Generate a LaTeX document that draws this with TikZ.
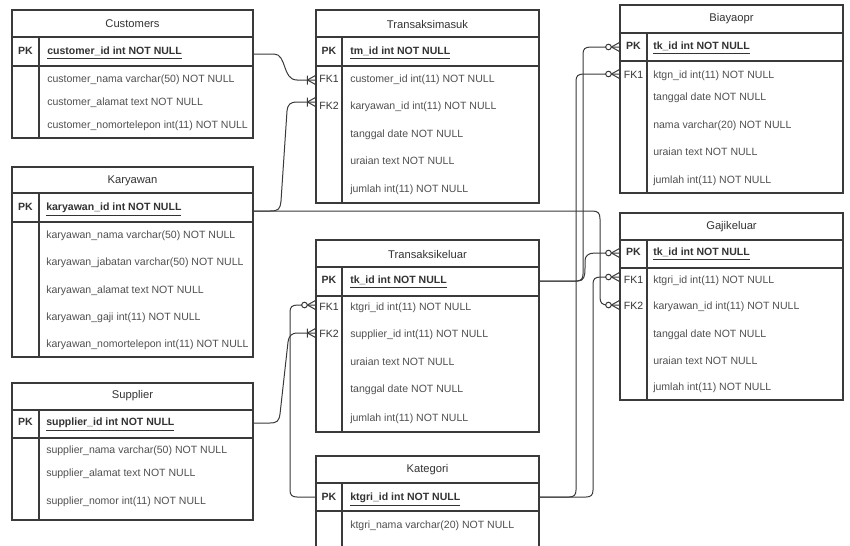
\documentclass[tikz,border=0pt]{standalone}
\usepackage{fontspec}
\setmainfont{Liberation Sans}
\usetikzlibrary{fit}
\definecolor{linec}{HTML}{3A3A3A}
\definecolor{rowc}{HTML}{505050}
\definecolor{titc}{HTML}{333333}
\begin{document}
\begin{tikzpicture}[x=0.75pt,y=-0.75pt,
  tblbox/.style={draw=linec, line width=0.8pt, inner sep=0pt},
  tblline/.style={draw=linec, line width=0.8pt},
  conn/.style={draw=linec, line width=0.75pt},
  titletxt/.style={inner sep=0pt, font=\fontsize{8.4}{10}\selectfont, text=titc},
  rowtxt/.style={anchor=west, inner sep=0pt, text height=6pt, text depth=1.8pt, font=\fontsize{7.9}{9}\selectfont, text=rowc},
  pktxt/.style={rowtxt, font=\fontsize{7.9}{9}\selectfont\bfseries, text=titc},
  keytxt/.style={inner sep=0pt, text height=6pt, text depth=1.8pt, font=\fontsize{7.9}{9}\selectfont, text=titc},
  pkkey/.style={keytxt, font=\fontsize{7.9}{9}\selectfont\bfseries},
  zmany/.pic={\draw[conn] (-8,0) -- (0,-4.5) (-8,0) -- (0,4.5); \draw[conn, fill=white] (-11,0) circle (2.1pt);},
  mmany/.pic={\draw[conn] (-8,0) -- (0,-4.5) (-8,0) -- (0,4.5) (-8,-4.5) -- (-8,4.5);}
]
\useasboundingbox (0,0) rectangle (850,546);
\fill[white] (0,0) rectangle (850,546);
\clip (0,0) rectangle (850,546);

% ---------- Customers ----------
\node[tblbox, fit={(12,10)(253,138)}] (cu) {};
\draw[tblline] (12,37) -- (253,37) (12,66) -- (253,66) (39,37) -- (39,138);
\node[titletxt] (cu-t) at (132.5,24) {Customers};
\node[pkkey] (cu-k) at (25.5,52) {PK};
\node[pktxt] (cu-pk) at (47,52) {\underline{customer\_id int NOT NULL}};
\node[rowtxt] (cu-r1) at (47,80) {customer\_nama varchar(50) NOT NULL};
\node[rowtxt] (cu-r2) at (47,103) {customer\_alamat text NOT NULL};
\node[rowtxt] (cu-r3) at (47,126) {customer\_nomortelepon int(11) NOT NULL};

% ---------- Karyawan ----------
\node[tblbox, fit={(12,167)(253,357)}] (ka) {};
\draw[tblline] (12,193) -- (253,193) (12,222) -- (253,222) (39,193) -- (39,357);
\node[titletxt] (ka-t) at (132.5,181) {Karyawan};
\node[pkkey] (ka-k) at (25.5,208) {PK};
\node[pktxt] (ka-pk) at (46,208) {\underline{karyawan\_id int NOT NULL}};
\node[rowtxt] (ka-r1) at (46,236) {karyawan\_nama varchar(50) NOT NULL};
\node[rowtxt] (ka-r2) at (46,263) {karyawan\_jabatan varchar(50) NOT NULL};
\node[rowtxt] (ka-r3) at (46,291) {karyawan\_alamat text NOT NULL};
\node[rowtxt] (ka-r4) at (46,318) {karyawan\_gaji int(11) NOT NULL};
\node[rowtxt] (ka-r5) at (46,345) {karyawan\_nomortelepon int(11) NOT NULL};

% ---------- Supplier ----------
\node[tblbox, fit={(12,383)(253,520)}] (su) {};
\draw[tblline] (12,410) -- (253,410) (12,438) -- (253,438) (39,410) -- (39,520);
\node[titletxt] (su-t) at (132.5,396) {Supplier};
\node[pkkey] (su-k) at (25.5,423) {PK};
\node[pktxt] (su-pk) at (46,423) {\underline{supplier\_id int NOT NULL}};
\node[rowtxt] (su-r1) at (46,451) {supplier\_nama varchar(50) NOT NULL};
\node[rowtxt] (su-r2) at (46,474) {supplier\_alamat text NOT NULL};
\node[rowtxt] (su-r3) at (46,502) {supplier\_nomor int(11) NOT NULL};

% ---------- Transaksimasuk ----------
\node[tblbox, fit={(316,10)(539,203)}] (tm) {};
\draw[tblline] (316,37) -- (539,37) (316,66) -- (539,66) (342,37) -- (342,203);
\node[titletxt] (tm-t) at (427.5,24) {Transaksimasuk};
\node[pkkey] (tm-k) at (329,52) {PK};
\node[keytxt] (tm-k1) at (329,80) {FK1};
\node[keytxt] (tm-k2) at (329,107) {FK2};
\node[pktxt] (tm-pk) at (350,52) {\underline{tm\_id int NOT NULL}};
\node[rowtxt] (tm-r1) at (350,80) {customer\_id int(11) NOT NULL};
\node[rowtxt] (tm-r2) at (350,107) {karyawan\_id int(11) NOT NULL};
\node[rowtxt] (tm-r3) at (350,135) {tanggal date NOT NULL};
\node[rowtxt] (tm-r4) at (350,162) {uraian text NOT NULL};
\node[rowtxt] (tm-r5) at (350,190) {jumlah int(11) NOT NULL};

% ---------- Transaksikeluar ----------
\node[tblbox, fit={(316,240)(539,432)}] (tk) {};
\draw[tblline] (316,267) -- (539,267) (316,296) -- (539,296) (342,267) -- (342,432);
\node[titletxt] (tk-t) at (427.5,254) {Transaksikeluar};
\node[pkkey] (tk-k) at (329,281) {PK};
\node[keytxt] (tk-k1) at (329,308) {FK1};
\node[keytxt] (tk-k2) at (329,335) {FK2};
\node[pktxt] (tk-pk) at (350,281) {\underline{tk\_id int NOT NULL}};
\node[rowtxt] (tk-r1) at (350,308) {ktgri\_id int(11) NOT NULL};
\node[rowtxt] (tk-r2) at (350,335) {supplier\_id int(11) NOT NULL};
\node[rowtxt] (tk-r3) at (350,363) {uraian text NOT NULL};
\node[rowtxt] (tk-r4) at (350,390) {tanggal date NOT NULL};
\node[rowtxt] (tk-r5) at (350,419) {jumlah int(11) NOT NULL};

% ---------- Kategori ----------
\node[tblbox, fit={(316,456)(539,560)}] (kt) {};
\draw[tblline] (316,483) -- (539,483) (316,511) -- (539,511) (342,483) -- (342,560);
\node[titletxt] (kt-t) at (427.5,470) {Kategori};
\node[pkkey] (kt-k) at (329,498) {PK};
\node[pktxt] (kt-pk) at (350,498) {\underline{ktgri\_id int NOT NULL}};
\node[rowtxt] (kt-r1) at (350,526) {ktgri\_nama varchar(20) NOT NULL};

% ---------- Biayaopr ----------
\node[tblbox, fit={(620,5)(843,193)}] (bo) {};
\draw[tblline] (620,33) -- (843,33) (620,61) -- (843,61) (647,33) -- (647,193);
\node[titletxt] (bo-t) at (731.5,19) {Biayaopr};
\node[pkkey] (bo-k) at (633.5,47) {PK};
\node[keytxt] (bo-k1) at (633.5,76) {FK1};
\node[pktxt] (bo-pk) at (653,47) {\underline{tk\_id int NOT NULL}};
\node[rowtxt] (bo-r1) at (653,76) {ktgn\_id int(11) NOT NULL};
\node[rowtxt] (bo-r2) at (653,98) {tanggal date NOT NULL};
\node[rowtxt] (bo-r3) at (653,126) {nama varchar(20) NOT NULL};
\node[rowtxt] (bo-r4) at (653,153) {uraian text NOT NULL};
\node[rowtxt] (bo-r5) at (653,181) {jumlah int(11) NOT NULL};

% ---------- Gajikeluar ----------
\node[tblbox, fit={(620,213)(843,400)}] (gk) {};
\draw[tblline] (620,240) -- (843,240) (620,268) -- (843,268) (647,240) -- (647,400);
\node[titletxt] (gk-t) at (731.5,227) {Gajikeluar};
\node[pkkey] (gk-k) at (633.5,253) {PK};
\node[keytxt] (gk-k1) at (633.5,281) {FK1};
\node[keytxt] (gk-k2) at (633.5,307) {FK2};
\node[pktxt] (gk-pk) at (653,253) {\underline{tk\_id int NOT NULL}};
\node[rowtxt] (gk-r1) at (653,281) {ktgri\_id int(11) NOT NULL};
\node[rowtxt] (gk-r2) at (653,307) {karyawan\_id int(11) NOT NULL};
\node[rowtxt] (gk-r3) at (653,335) {tanggal date NOT NULL};
\node[rowtxt] (gk-r4) at (653,362) {uraian text NOT NULL};
\node[rowtxt] (gk-r5) at (653,388) {jumlah int(11) NOT NULL};

% ---------- Connectors ----------
% Customers -> Transaksimasuk FK1
\draw[conn] (cu.east |- 0,54) -- (274,54) .. controls (287,54) and (282,80) .. (297,80) -- (tm.west |- 0,80);
\pic at (tm.west |- 0,80) {mmany};
% Karyawan -> Transaksimasuk FK2
\draw[conn] (ka.east |- 0,211) -- (270,211) .. controls (279,211) and (280,209) .. (281,201) -- (287,111) .. controls (288,104) and (290,102) .. (298,102) -- (tm.west |- 0,102);
\pic at (tm.west |- 0,102) {mmany};
% Karyawan -> Gajikeluar FK2
\draw[conn] (ka.east |- 0,211) -- (592,211) .. controls (598,211) and (600,213) .. (600,219) -- (600,297) .. controls (600,303) and (602,305) .. (608,305) -- (gk.west |- 0,305);
\pic at (gk.west |- 0,305) {zmany};
% Transaksikeluar -> Biayaopr PK
\draw[conn] (tk.east |- 0,281) -- (576,281) .. controls (581,281) and (583,279) .. (583,274) -- (583,54) .. controls (583,49) and (585,47) .. (591,47) -- (bo.west |- 0,47);
\pic at (bo.west |- 0,47) {zmany};
% Transaksikeluar -> Gajikeluar PK
\draw[conn] (tk.east |- 0,281) -- (578,281) .. controls (584,281) and (585,276) .. (585,268) -- (585,261) .. controls (585,256) and (588,253) .. (595,253) -- (gk.west |- 0,253);
\pic at (gk.west |- 0,253) {zmany};
% Kategori -> Biayaopr FK1
\draw[conn] (kt.east |- 0,497) -- (569,497) .. controls (574,497) and (576,495) .. (576,490) -- (576,81) .. controls (576,76) and (578,74) .. (584,74) -- (bo.west |- 0,74);
\pic at (bo.west |- 0,74) {zmany};
% Kategori -> Gajikeluar FK1
\draw[conn] (kt.east |- 0,497) -- (586,497) .. controls (591,497) and (593,495) .. (593,490) -- (593,284) .. controls (593,279) and (595,277) .. (601,277) -- (gk.west |- 0,277);
\pic at (gk.west |- 0,277) {zmany};
% Kategori -> Transaksikeluar FK1
\draw[conn] (kt.west |- 0,497) -- (297,497) .. controls (292,497) and (290,495) .. (290,490) -- (290,312) .. controls (290,307) and (292,305) .. (298,305) -- (tk.west |- 0,305);
\pic at (tk.west |- 0,305) {zmany};
% Supplier -> Transaksikeluar FK2
\draw[conn] (su.east |- 0,423) -- (270,423) .. controls (277,423) and (279,421) .. (280,414) -- (288,342) .. controls (289,336) and (291,333) .. (298,333) -- (tk.west |- 0,333);
\pic at (tk.west |- 0,333) {mmany};
\end{tikzpicture}
\end{document}
